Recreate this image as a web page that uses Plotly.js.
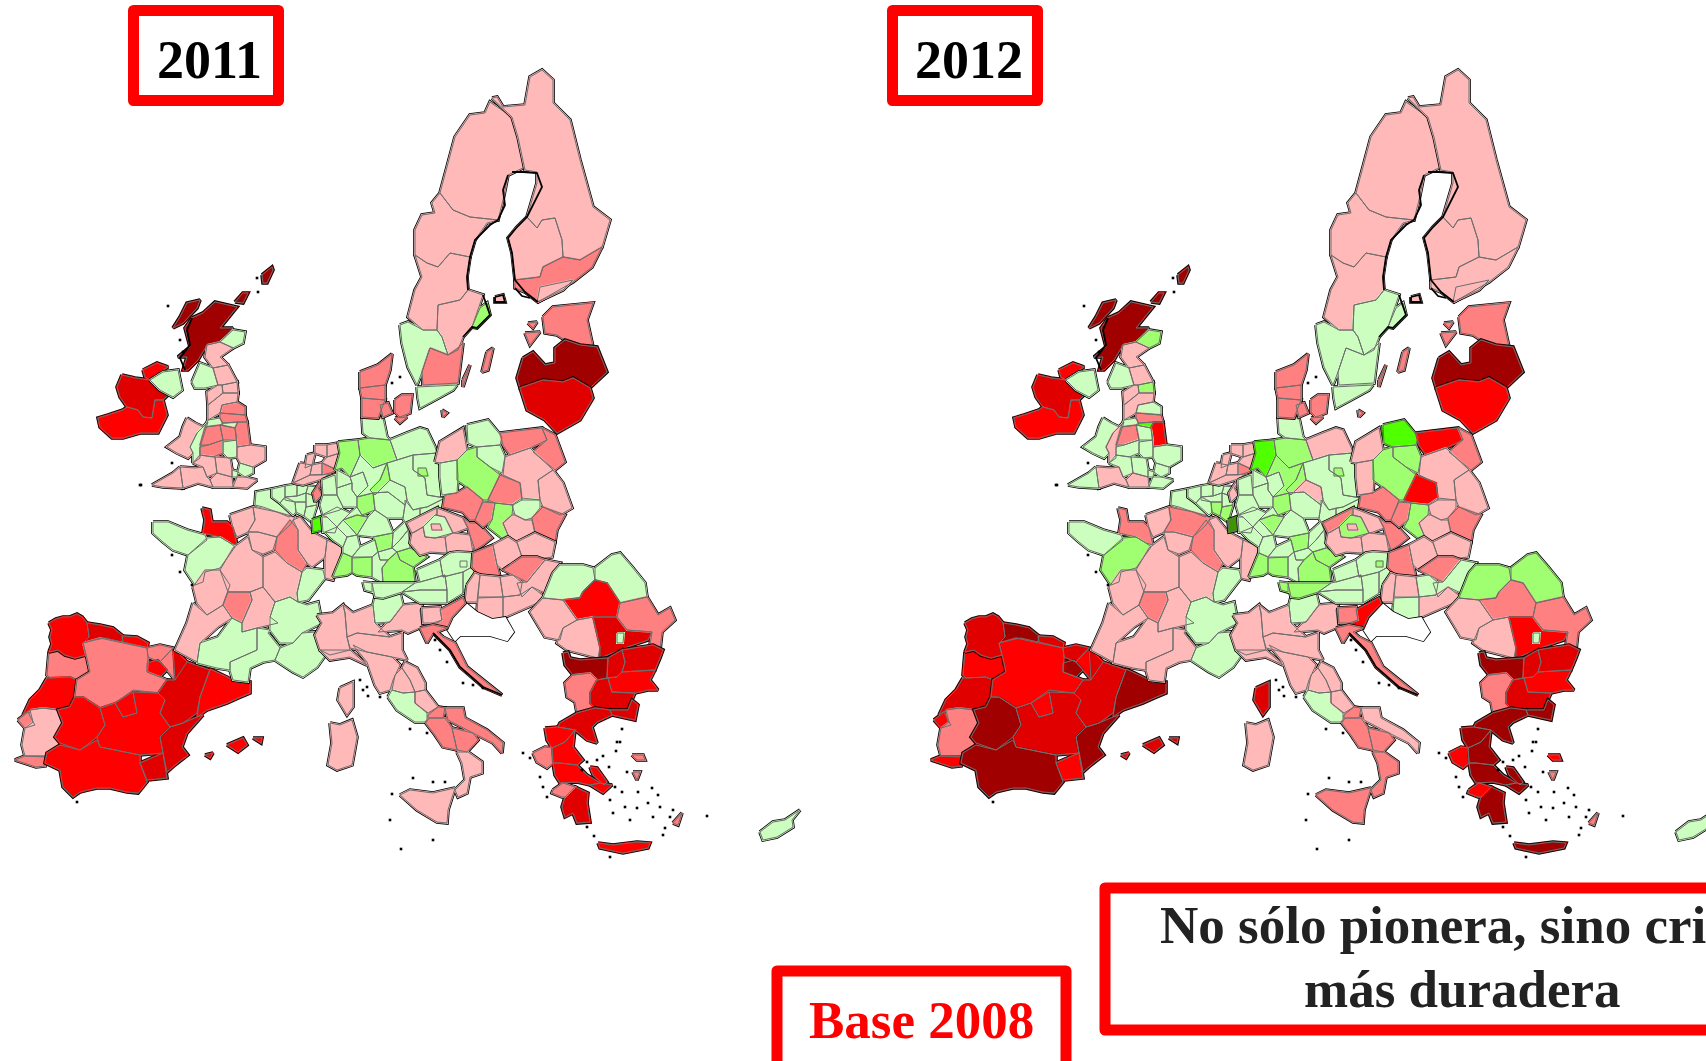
<!DOCTYPE html>
<html><head><meta charset="utf-8"><script src="https://cdn.plot.ly/plotly-3.0.1.min.js"></script>
<style>html,body{margin:0;padding:0;background:#fff;overflow:hidden}.shapelayer path{stroke-linejoin:round}</style></head>
<body><div id="chart" style="width:1706px;height:1061px"></div>
<script>
// Value classes, lowest to highest, with their colours
const classColors = ['#3C9600','#50FF00','#A0FF70','#CCFFBF','#FFB9B9','#FF8080','#FF0000','#E00000','#A00000'];
const noDataColor = '#FFFFFF';
const yearLabels = ['2011','2012'];

const regionNames = [
'PT Norte','PT Centro','PT Lisboa','PT Alentejo','PT Algarve',
'ES Galicia','ES Asturias','ES Cantabria','ES Pais Vasco','ES Navarra','ES Rioja','ES Castilla y Leon','ES Madrid','ES Aragon','ES Cataluna','ES Castilla-La Mancha','ES Valencia','ES Murcia','ES Extremadura','ES Andalucia','ES Mallorca','ES Menorca','ES Ibiza',
'FR Nord','FR Haute-Normandie','FR Basse-Normandie','FR Picardie','FR Ile-de-France','FR Champagne','FR Lorraine','FR Alsace','FR Bretagne','FR Pays de la Loire','FR Centre','FR Bourgogne','FR Franche-Comte','FR Poitou','FR Limousin','FR Auvergne','FR Aquitaine','FR Midi-Pyrenees','FR Languedoc','FR Rhone-Alpes','FR PACA','FR Corse',
'IT Piemonte','IT Lombardia','IT Trentino','IT Veneto','IT Emilia-Romagna','IT Liguria','IT Toscana','IT Umbria','IT Marche','IT Lazio','IT Abruzzo','IT Molise','IT Campania','IT Puglia','IT Basilicata','IT Calabria','IT Sicilia','IT Sardegna',
'BE West-Vlaanderen','BE Oost-Vlaanderen','BE Antwerpen','BE Limburg','BE Brabant','BE Hainaut','BE Liege','BE Namur','BE Luxembourg',
'LU Luxembourg',
'NL Friesland','NL Groningen','NL Drenthe','NL Gelderland','NL Noord-Holland','NL Utrecht','NL Zuid-Holland','NL Noord-Brabant','NL Limburg',
'DE Schleswig-Holstein','DE Weser-Ems','DE Luneburg','DE Hannover','DE Mecklenburg','DE Brandenburg NO','DE Brandenburg SW','DE Berlin','DE Braunschweig','DE Sachsen-Anhalt','DE Thuringen','DE Leipzig','DE Dresden','DE Kassel','DE Giessen','DE Darmstadt','DE Dusseldorf','DE Munster','DE Detmold','DE Arnsberg','DE Koln','DE Koblenz','DE Trier','DE Pfalz-Saar','DE Rheinhessen','DE Karlsruhe','DE Freiburg','DE Tubingen','DE Stuttgart','DE Rhon','DE Unterfranken','DE Oberfranken','DE Oberpfalz','DE Mittelfranken','DE Schwaben','DE Oberbayern','DE Niederbayern',
'CZ Severozapad','CZ Stredni Cechy','CZ Praha','CZ Severovychod','CZ Jihozapad','CZ Jihovychod','CZ Morava',
'PL Zachodniopomorskie','PL Pomorskie','PL Warminsko','PL Podlaskie','PL Kujawsko','PL Lubuskie','PL Wielkopolskie','PL Mazowieckie','PL Lodzkie','PL Lubelskie','PL Swietokrzyskie','PL Dolnoslaskie','PL Opolskie','PL Slaskie','PL Malopolskie','PL Podkarpackie',
'AT Vorarlberg','AT Tirol','AT Salzburg','AT Oberosterreich','AT Karnten','AT Niederosterreich','AT Burgenland','AT Steiermark','AT Wien',
'SK Zapadne','SK Stredne','SK Vychodne',
'HU Eszak-Magyarorszag','HU Eszak-Alfold','HU Del-Alfold','HU Kozep-Magyarorszag','HU Nyugat-Dunantul','HU Kozep-Dunantul','HU Del-Dunantul',
'BA Sin datos',
'SI Vzhodna','SI Zahodna','HR Jadranska',
'RO Nord-Vest','RO Nord-Est','RO Centru','RO Vest','RO Sud-Vest','RO Sud','RO Sud-Est','RO Bucuresti',
'BG Severozapaden','BG Severen tsentralen','BG Severoiztochen','BG Yugozapaden','BG Yuzhen tsentralen','BG Yugoiztochen',
'GR Anatoliki Makedonia','GR Kentriki Makedonia','GR Dytiki Makedonia','GR Ipeiros','GR Thessalia','GR Sterea','GR Attiki','GR Peloponnisos','GR Dytiki Ellada','GR Kriti','GR Lesvos','GR Chios','GR Rodos','GR Evvoia',
'CY Kypros',
'UK Highlands','UK Hebrides','UK Orkney','UK Shetland','UK North East Scotland','UK Eastern Scotland','UK South West Scotland','UK Northumberland','UK Cumbria','UK Durham','UK North Yorkshire','UK Lancashire','UK West Wales','UK East Wales','UK Cheshire','UK Derbyshire','UK South Yorkshire','UK Lincolnshire','UK Leicestershire','UK Shropshire','UK West Midlands','UK Bedfordshire','UK East Anglia','UK Essex','UK London','UK Kent','UK Oxfordshire','UK Gloucestershire','UK Hampshire','UK Dorset','UK Cornwall',
'IE Border Midland West','IE Donegal','IE Southern Eastern','GB Northern Ireland',
'DK Nordjylland','DK Midtjylland','DK Syddanmark','DK Sjaelland','DK Fyn','DK Lolland','DK Bornholm',
'SE Ovre Norrland','SE Mellersta Norrland','SE Norra Mellansverige','SE Ostra Mellansverige','SE Stockholm','SE Vastsverige','SE Smaland','SE Sydsverige','SE Gotland','SE Oland',
'FI Pohjois-Suomi','FI Lansi-Suomi','FI Etela-Suomi','FI Helsinki','FI Aland',
'EE Eesti','EE Saaremaa','EE Hiiumaa','LV Latvija','LT Lietuva'
];

// class index per region, same order as regionNames (-1: no data)
const value2011 = [
5,6,5,4,5,
6,7,6,5,5,6,5,6,7,6,6,7,7,6,6,6,6,6,
3,4,6,4,4,5,4,4,3,3,4,4,3,4,5,4,4,3,3,3,3,4,
4,4,3,4,4,4,4,4,4,3,4,5,5,5,5,4,4,4,
3,3,3,3,3,3,3,3,3,
1,
4,4,4,5,4,4,4,4,5,
3,2,2,3,3,3,3,2,2,3,3,3,3,2,3,2,3,3,3,3,3,3,3,3,3,3,2,2,3,3,2,3,3,3,3,2,2,
4,3,4,4,4,4,5,
4,3,5,5,3,3,2,4,5,4,3,5,5,2,4,5,
3,3,3,3,3,3,3,3,3,
5,4,4,
5,4,4,4,4,4,4,
-1,
5,4,5,
3,3,6,4,4,7,5,3,
8,7,7,5,7,6,
7,7,6,5,6,6,6,7,5,6,5,5,5,6,
3,
8,8,8,8,3,4,3,4,4,4,5,4,4,3,3,3,5,5,5,5,5,3,4,3,3,4,4,4,4,4,4,
7,6,6,3,
5,5,5,5,5,5,5,
4,4,4,4,2,3,5,3,5,5,
4,4,5,4,4,
5,5,5,8,7
];
const value2012 = [
6,7,6,5,6,
7,8,7,7,6,8,6,6,7,8,7,8,6,8,8,7,7,6,
3,4,5,5,4,5,4,4,3,2,4,4,3,4,5,4,4,4,4,3,3,7,
4,4,3,4,4,4,4,4,4,3,4,5,5,4,5,5,5,4,
3,3,3,3,3,3,3,2,2,
0,
4,4,4,5,4,4,4,4,4,
3,1,2,2,4,3,3,2,2,4,3,3,3,2,3,2,3,3,3,3,3,3,3,3,3,3,2,2,3,3,2,3,3,3,3,2,2,
5,2,4,4,4,4,5,
4,1,6,5,2,4,2,4,6,4,4,5,5,2,4,5,
2,2,3,3,3,3,3,3,2,
5,4,4,
5,3,4,3,4,4,3,
-1,
6,5,5,
2,2,5,4,4,6,5,3,
8,7,7,5,7,6,
8,8,8,6,8,8,8,8,6,8,6,5,5,8,
3,
8,8,8,8,2,4,3,4,4,2,3,4,3,4,3,1,5,6,3,5,3,3,3,3,3,3,3,3,4,4,3,
7,6,6,3,
5,5,5,5,5,5,5,
4,4,4,3,3,3,3,3,5,5,
4,4,4,4,4,
5,5,5,8,6
];

// Outline of each region, in map units, same order as regionNames
const regionOutlines = [
"49,652 58,650 65,655 75,658 86,655 88,665 90,672 77,680 70,677 50,678 47,675",
"47,678 70,677 77,680 75,697 70,707 58,710 43,708 30,710 23,715 30,700 40,690",
"18,720 28,712 33,722 35,725 25,728",
"30,710 43,708 58,710 63,723 55,737 60,745 47,753 45,757 25,756 22,745 25,728 33,722",
"25,756 45,756 45,766 36,767 15,760",
"49,623 56,619 63,617 70,617 77,614 82,617 87,623 89,637 83,643 86,655 75,658 65,655 58,650 49,652 52,644 50,637 52,630",
"87,623 100,625 113,628 123,636 122,642 105,638 95,640 83,643 89,637",
"122,636 137,637 148,643 147,648 135,645 123,642",
"147,648 160,645 173,648 160,662 148,657",
"173,648 187,662 175,680 167,670 160,662",
"147,663 158,660 167,670 160,677 147,672",
"83,643 100,638 123,643 147,648 148,657 147,672 160,677 167,680 158,693 133,690 115,703 100,708 83,697 75,697 77,680 90,672 87,658 86,655",
"115,703 133,692 137,713 123,717",
"173,648 187,662 190,663 210,670 200,697 197,713 183,723 170,727 160,713 165,700 158,693 167,680 175,680",
"210,669 227,677 236,682 250,682 250,693 238,698 227,703 207,710 197,717 200,697",
"100,708 115,703 123,717 137,713 133,692 158,693 165,700 160,713 170,727 160,737 163,753 140,755 100,747 97,737 105,725",
"170,727 183,723 197,717 203,715 187,733 182,747 188,755 175,765 167,772 163,753 160,737",
"140,763 163,753 167,778 147,780",
"75,697 83,697 100,708 105,725 97,737 80,750 60,743 55,737 63,723 58,710 70,707",
"60,745 80,750 97,740 100,747 140,755 140,763 147,782 138,793 127,792 110,788 97,788 88,790 80,792 73,797 63,787 60,770 45,763 47,753",
"227,745 243,738 247,745 238,752",
"253,738 262,738 261,743",
"205,755 213,753 210,758",
"255,505 256,492 272,489 272,497 280,503 293,515 289,517 277,512 263,507",
"230,515 253,507 255,520 248,532 237,537 233,528",
"202,508 210,510 212,522 227,522 233,528 237,545 230,543 220,537 203,533 205,520",
"253,507 277,512 295,517 290,525 277,537 258,532 248,532 255,520",
"248,532 258,532 277,537 273,550 263,554 252,550",
"275,550 277,537 290,520 298,530 298,550 307,563 302,572 287,563",
"293,520 300,517 312,532 327,540 325,557 312,567 307,563 298,550 298,530",
"327,540 343,547 333,580 325,578 325,557",
"153,522 168,522 187,530 205,535 207,540 188,555 173,550 163,542 153,533",
"207,538 220,537 230,543 235,547 220,568 205,572 203,582 195,585 185,570 188,555",
"220,570 233,548 248,537 252,550 263,557 263,587 250,592 228,592",
"263,557 275,552 287,563 302,572 297,593 298,602 290,597 275,602 263,587",
"298,602 297,593 302,572 307,568 323,570 325,578 308,600",
"193,587 205,570 220,570 230,585 223,605 207,615 197,603",
"223,605 228,592 250,592 252,600 242,623 232,618",
"250,592 263,587 275,602 270,617 278,623 257,628 242,632 242,623 252,600",
"193,603 207,615 223,605 232,618 218,627 200,643 197,662 175,650 187,623",
"200,643 218,637 232,618 242,623 242,632 257,628 257,650 230,662 230,670 217,668 197,663",
"257,628 270,630 268,633 280,648 275,660 263,662 250,668 248,682 233,680 230,670 230,662 257,650",
"270,617 275,602 290,597 298,602 307,605 318,602 322,623 302,633 293,643 280,643 270,630",
"280,648 293,643 302,633 315,632 327,653 317,667 303,677 293,672 275,660",
"340,688 353,682 353,707 347,715 338,700",
"317,615 333,613 343,605 345,613 347,637 350,650 330,655 320,650 315,635 322,623",
"343,605 353,613 373,605 375,623 390,637 357,633 347,637 345,613",
"375,597 400,593 403,605 390,622 375,623 373,605",
"387,623 390,622 403,605 423,603 420,610 422,627 408,633 402,630 378,632",
"347,637 357,633 390,637 402,633 402,650 407,660 392,657 367,652 350,648",
"320,650 350,650 367,665 350,657 330,660",
"353,645 367,652 392,657 400,665 393,680 390,690 380,693 375,685 367,662",
"392,690 395,675 402,668 410,680 415,692 403,693",
"402,668 405,662 417,668 425,683 425,690 415,692 410,680",
"388,697 392,690 403,693 415,692 415,703 427,713 427,722 415,722 397,710",
"415,692 425,690 438,707 428,713 415,703",
"428,715 438,707 445,708 443,718 428,718",
"425,722 430,718 445,718 452,728 457,750 443,747 435,735",
"445,708 463,708 465,718 487,730 503,743 502,753 493,743 473,733 448,720",
"452,728 473,733 478,740 467,752 457,750",
"457,752 468,752 482,762 482,773 470,777 467,793 458,797 455,790 465,780 462,763",
"400,795 410,790 433,793 455,788 448,810 447,823 437,822 417,810",
"330,723 340,725 352,720 357,737 352,765 337,770 328,765 332,743",
"272,489 285,486 285,497 280,503 272,497",
"285,486 297,484 297,496 285,497",
"297,484 308,486 306,493 297,496",
"308,486 318,487 317,497 306,493",
"285,497 297,496 306,493 306,502 295,502 285,500",
"280,503 285,497 295,502 296,512 293,515",
"306,493 317,497 317,505 306,507 306,502",
"295,502 306,502 306,507 304,516 296,512",
"306,507 317,505 313,518 312,522 304,516",
"312,520 320,517 322,530 313,532",
"315,445 327,445 327,457 315,453",
"327,445 338,443 340,453 327,457",
"327,457 340,453 337,470 322,463",
"322,463 337,470 330,473 322,475",
"307,455 315,453 312,465 305,468",
"312,465 322,463 322,475 310,475",
"300,463 312,465 310,475 293,483",
"293,483 310,475 330,474 322,479 303,485",
"322,479 330,474 318,488 322,495 315,502 313,493",
"362,417 383,418 387,437 390,440 370,438 363,433",
"338,442 358,440 360,455 350,477 342,468 335,470 340,453",
"358,440 370,438 390,440 397,460 387,463 373,468 360,455",
"350,477 360,455 373,468 387,463 380,480 370,490 373,493 357,497 368,486 363,472",
"390,440 407,433 420,428 427,430 435,447 437,453 413,455 397,460",
"413,455 437,453 445,498 427,495 425,478 413,470",
"397,460 413,455 413,470 425,478 427,495 445,498 427,507 413,510 407,500 405,487 390,480 387,463",
"418,468 426,468 428,476 418,476",
"387,463 390,480 375,495 370,490 380,480",
"390,480 405,487 407,500 405,505 388,492 373,493 370,490 375,495",
"373,493 388,492 405,505 403,518 387,518 375,510",
"405,500 413,510 420,508 420,517 405,522 403,518 405,505",
"420,508 427,507 445,498 443,507 420,517",
"357,497 373,493 375,510 362,515 357,507",
"350,513 357,507 362,515 368,517 357,515 343,520",
"343,520 357,515 368,517 357,535 350,527",
"322,480 335,475 337,495 323,495",
"337,470 350,477 352,483 337,488",
"350,477 363,472 368,486 357,497 352,490 352,483",
"337,488 352,483 352,490 357,497 357,507 343,507 337,495",
"323,495 337,495 343,507 340,510 323,515 320,505",
"322,515 337,507 350,513 343,520 337,527 327,517",
"322,517 327,517 337,527 335,533 323,532",
"325,532 337,527 347,537 343,547 333,540",
"337,527 343,520 350,527 357,535 347,537",
"343,547 347,537 357,535 360,547 352,557 343,553",
"343,553 352,557 352,572 347,575 333,577 340,560",
"352,558 372,557 372,577 357,575 352,572",
"360,547 375,540 378,552 372,557 352,557",
"368,517 375,510 387,518 393,533 373,537 357,535",
"373,537 393,533 392,548 378,552 375,540",
"393,533 405,522 408,530 400,540 392,548",
"392,548 400,540 408,530 410,548 397,552",
"378,552 392,548 397,552 388,560 380,560",
"372,557 378,552 380,560 388,560 382,568 383,583 372,577",
"388,560 397,552 400,560 413,567 415,583 383,583 382,568",
"397,552 410,548 427,557 413,567 400,560",
"407,523 437,508 437,515 435,515 423,527 415,532 412,533",
"423,527 435,515 445,517 453,533 435,538 425,537",
"431,524 440,524 442,530 432,530",
"437,508 463,518 468,528 457,532 453,533 445,517 437,515",
"412,533 423,527 425,537 435,538 445,537 447,553 430,552 420,555 410,543",
"453,533 470,535 473,553 457,552 447,553 445,537",
"463,518 470,523 478,523 492,538 483,545 475,550 470,535 468,528",
"435,462 440,442 463,428 467,450 457,460 440,463",
"467,425 488,420 502,437 500,445 477,447 468,443",
"500,433 542,428 547,440 530,448 510,455 503,445",
"542,428 555,435 565,462 555,470 533,452 547,440",
"477,447 500,445 505,457 502,473 490,467 477,457",
"440,463 457,460 458,477 457,493 442,495 440,477",
"457,460 467,450 477,447 477,457 490,467 500,475 488,500 483,500 467,487 457,480",
"510,455 530,448 553,470 538,480 540,500 522,500 520,483 503,475 505,457",
"488,500 500,475 520,483 522,500 513,505 495,503",
"538,480 553,470 563,483 572,508 560,515 543,507 540,500",
"512,505 522,498 540,500 540,508 532,518 525,520 515,515",
"445,495 457,493 467,487 483,500 475,520 470,520 463,512 443,507",
"483,502 495,503 492,520 483,527 475,520",
"495,503 513,505 512,515 503,523 508,535 502,538 488,527 492,520",
"512,515 515,515 525,520 532,520 535,532 517,542 508,535 503,523",
"532,518 543,507 565,515 557,530 555,542 535,533",
"363,582 372,583 372,592 365,590",
"372,583 415,583 402,592 383,598 375,597",
"415,583 420,582 445,575 447,590 420,590 402,592",
"417,570 440,560 443,577 445,575 420,582",
"402,592 420,590 447,590 447,603 420,603",
"440,560 450,553 457,552 473,553 472,567 463,572 443,577",
"463,572 472,567 475,573 467,585 463,593",
"443,577 463,572 463,593 447,603 447,590 445,575",
"460,561 467,561 467,567 460,567",
"473,553 493,545 497,565 500,577 480,575 472,567",
"493,545 508,537 517,543 522,557 503,570 497,565",
"517,542 535,533 555,542 552,557 545,558 522,557",
"503,570 522,557 537,557 545,560 527,582 513,575",
"545,560 560,563 553,572 545,593 532,587 522,597 517,583 527,582",
"503,597 520,595 532,587 545,597 540,602 528,607 503,618",
"500,577 513,575 522,583 520,595 503,597",
"467,585 475,573 480,575 478,592 477,602 465,602",
"480,575 500,577 503,597 478,597",
"478,598 503,597 503,618 492,620 477,613",
"452,617 465,603 477,613 492,620 505,618 513,632 507,640 490,635 460,635 455,640 447,628",
"440,610 463,598 465,603 452,617 447,628 433,625 442,620",
"422,608 440,607 442,620 433,623 423,623",
"420,628 433,625 447,628 437,632 443,637 455,643 467,667 487,683 502,695 483,687 460,667 450,650 440,640 433,633 427,643",
"553,573 560,565 583,565 593,568 595,580 583,592 580,598 563,600 543,598",
"595,568 612,555 620,553 632,567 645,583 647,597 620,603 607,583 595,580",
"563,600 580,598 583,592 595,580 607,583 620,603 617,617 593,617 577,620",
"543,598 563,600 577,620 563,628 560,640 545,637 530,612",
"563,628 577,620 593,617 600,647 598,658 567,650 557,643",
"593,617 617,617 627,630 652,632 648,640 627,647 600,658 600,647",
"620,603 647,597 658,615 670,608 675,620 662,632 660,650 650,645 652,632 627,630 617,617",
"617,633 624,633 623,643 617,643",
"563,653 568,652 570,658 580,660 608,658 607,678 597,680 590,673 573,675 565,665",
"608,658 622,650 625,662 622,672 617,677 607,678",
"622,650 653,645 663,650 660,658 655,670 622,672 625,662",
"573,675 590,673 597,680 590,693 590,703 595,708 577,713 575,702 567,697 565,683",
"597,680 608,678 612,692 635,693 632,700 628,710 610,710 595,708 590,703 590,693",
"608,678 617,677 622,672 655,670 650,680 658,690 648,690 635,693 612,692",
"610,710 628,710 632,700 638,705 635,720 612,715",
"577,713 595,708 610,710 612,715 597,722 592,727 597,743 587,740 575,730 558,727 560,723",
"545,728 558,727 575,730 565,742 552,748 547,740",
"533,753 545,747 552,748 553,763 547,768 537,762",
"565,742 575,730 573,747 583,760 577,765 560,763 553,763 552,748",
"553,763 560,763 577,765 587,775 600,783 590,785 577,782 560,783 555,775",
"600,783 612,785 603,793 590,785",
"565,797 575,787 588,793 587,803 590,822 577,823 573,813 565,817 562,807",
"553,790 563,783 575,787 565,797 562,797 552,793",
"598,843 613,845 637,842 650,843 648,848 623,853 600,848",
"632,755 643,755 645,760 637,760",
"633,772 640,772 637,780",
"673,823 682,813 678,825",
"590,767 597,768 607,782 604,785 593,775",
"760,832 773,822 785,820 800,810 792,820 793,827 777,837 763,840",
"192,318 203,313 215,302 237,307 220,328 233,328 220,342 207,345 198,360 188,370 183,370 187,357 178,357 190,347 185,328",
"180,317 187,303 200,300 197,308 183,323 173,328",
"235,302 243,293 248,293 243,303",
"262,275 272,267 273,270 267,283 263,283",
"220,342 233,330 245,332 243,343 233,348",
"207,345 220,342 233,348 220,357 228,365 213,368 205,357",
"192,382 200,363 213,368 218,385 205,388 195,388",
"213,368 228,365 237,382 222,385 218,385",
"218,385 222,385 223,393 208,405 207,392",
"222,385 237,382 238,393 223,393",
"222,405 237,402 245,407 245,415 220,413",
"208,405 223,393 238,393 237,402 222,405 220,413 208,420",
"187,418 195,423 203,427 197,433 190,447 193,453 188,458 177,453 167,447 180,437 183,427",
"203,427 197,433 190,447 193,453 193,463 200,458 200,447 208,422",
"208,420 220,418 223,425 205,427",
"223,423 238,422 235,428 220,425",
"220,413 245,415 247,422 238,422 223,423 220,418",
"235,428 238,422 247,422 250,445 237,447",
"220,425 235,428 237,440 223,440",
"205,427 220,425 223,440 208,445 200,445",
"200,447 208,445 223,440 223,453 213,457 200,455",
"223,442 237,440 237,457 228,458 223,453",
"237,447 250,445 265,447 265,460 253,467 240,463 237,457",
"240,463 253,467 253,473 245,477 238,472",
"232,470 238,472 237,477 232,477",
"237,477 245,477 257,480 247,488 233,487",
"215,457 230,458 232,470 232,477 217,473",
"193,463 200,455 215,457 217,473 207,477 203,467",
"217,473 232,477 233,487 213,487 210,480",
"180,467 195,468 203,467 207,477 210,480 213,487 198,483 183,488",
"152,485 173,473 180,467 183,488 163,487",
"122,375 135,378 150,380 160,390 168,395 163,400 155,400 152,418 143,417 138,410 127,407 120,397 117,387",
"143,370 157,363 168,367 160,372 150,380 145,377",
"127,407 138,410 143,417 152,418 155,400 163,400 167,415 158,433 140,433 123,438 112,438 100,427 98,418 108,415 123,410",
"150,380 163,372 178,370 182,390 173,397 160,390",
"360,372 378,365 392,354 390,370 385,385 360,388",
"360,388 385,385 385,400 362,398",
"362,398 385,400 378,418 362,417",
"395,400 402,395 412,395 410,413 400,417 395,412",
"380,405 388,403 392,413 383,417",
"395,418 407,417 400,423",
"442,410 447,413 443,417",
"440,193 447,167 455,137 470,115 485,113 490,102 512,117 517,133 525,167 508,175 503,200 498,220 470,217 453,210",
"440,193 453,210 470,217 498,220 487,223 475,240 470,257 450,253 438,267 427,263 415,255 415,230 422,215 435,213 432,203",
"415,255 427,263 438,267 450,253 470,257 467,277 468,290 460,300 438,305 437,330 423,330 408,317 415,290 422,277",
"438,305 460,300 468,290 483,295 472,327 463,337 458,350 448,355 442,337 437,330",
"472,327 480,308 487,303 490,315 477,328",
"400,325 408,322 423,330 437,330 442,337 448,355 430,348 422,372 417,385 408,367 402,343",
"430,348 448,355 458,348 463,343 458,383 423,385 422,372",
"417,387 457,385 453,390 435,400 420,408 418,398",
"487,352 493,348 488,370 482,372",
"463,380 470,365 463,387",
"492,98 497,97 503,107 525,105 530,77 542,70 553,80 553,103 570,120 580,160 593,207 610,220 602,247 580,260 563,257 562,240 555,218 542,220 537,228 527,217 537,183 537,172 525,170 518,137 512,117",
"527,217 537,228 542,220 555,218 562,240 563,257 543,267 540,277 515,280 512,253 508,238 517,227",
"515,280 540,277 543,267 563,257 580,260 602,247 592,267 573,282 538,302 525,292 515,288",
"540,287 573,280 563,290 537,302",
"495,297 503,295 505,302 495,302",
"543,317 553,307 593,303 587,320 593,347 580,345 565,340 557,335 545,333",
"525,333 540,332 530,345",
"528,323 537,322 533,328",
"523,358 533,352 545,365 555,363 555,348 565,340 580,345 597,347 607,372 590,388 573,382 543,380 520,388 517,378",
"520,388 543,380 563,382 573,378 590,388 593,398 580,420 557,433 545,420 527,410"
];

// Small islets and rugged coast that read as black specks and lines
const isletX = [622,617,620,616,609,603,597,587,582,540,543,547,523,530,627,615,622,638,652,610,613,625,630,637,648,658,660,653,670,673,707,663,665,594,587,610,360,367,363,368,380,410,427,433,445,413,392,390,433,401,435,440,447,463,473,483,168,257,258,180,183,140,172,141,77,172,180,192,400,392];
const isletY = [729,742,742,751,767,756,760,762,770,777,787,797,753,758,772,787,792,792,788,800,813,807,820,808,803,795,807,817,817,810,816,835,828,836,827,857,680,687,690,696,697,729,733,782,782,778,794,820,840,849,640,650,662,683,685,688,306,278,292,340,352,485,463,485,802,555,572,585,377,383];
const coastLines = [
"508,175 503,190 505,205 498,220 490,225 475,240 470,257 467,277 468,290",
"512,172 523,172 537,173 542,187 527,217 517,227 508,238 512,253 515,280 525,292 538,302",
"483,295 490,315 477,328 472,327 463,337",
"192,318 187,330 190,345 180,358 185,370",
"433,633 440,640 450,650 460,667 483,687 502,695",
"495,297 503,295 505,302 495,302 495,297",
"515,288 522,296 530,298"
];

// Offset of the second map within the page, and page frame
const pageWidth = 1706, pageHeight = 1061, secondMapOffset = 916;

function parseOutline(s){
  const x=[],y=[];
  s.split(' ').forEach(p=>{const [a,b]=p.split(',').map(Number);x.push(a);y.push(b);});
  x.push(x[0]);y.push(y[0]);
  return {x,y};
}
if(regionNames.length!==regionOutlines.length||regionNames.length!==value2011.length||regionNames.length!==value2012.length)
  throw new Error('length mismatch '+[regionNames.length,regionOutlines.length,value2011.length,value2012.length]);

const traces=[];
function addMap(values,xa){
  let i=0;
  while(i<regionNames.length){
    const c=regionNames[i].slice(0,2); let j=i;
    const ox=[],oy=[];
    while(j<regionNames.length&&regionNames[j].slice(0,2)===c){
      const p=parseOutline(regionOutlines[j]);
      ox.push(...p.x,null);oy.push(...p.y,null);j++;
    }
    // black edge of the country, then the filled regions slightly grown, then the grey region borders
    traces.push({type:'scatter',mode:'lines',x:ox,y:oy,xaxis:xa,yaxis:'y',hoverinfo:'skip',showlegend:false,
      line:{color:'#000',width:3.6,simplify:false}});
    for(let k=i;k<j;k++){
      const p=parseOutline(regionOutlines[k]);
      const v=values[k];
      const col=v<0?noDataColor:classColors[v];
      traces.push({type:'scatter',mode:'lines',x:p.x,y:p.y,xaxis:xa,yaxis:'y',name:regionNames[k],hoverinfo:'name',showlegend:false,
        fill:'toself',fillcolor:col,line:{color:col,width:2,simplify:false}});
    }
    if(c!=='BA'){
      traces.push({type:'scatter',mode:'lines',x:ox,y:oy,xaxis:xa,yaxis:'y',hoverinfo:'skip',showlegend:false,
        line:{color:'#6e6e6e',width:1,simplify:false}});
    }
    i=j;
  }
  const lx=[],ly=[];
  coastLines.forEach(s=>{const pts=s.split(' ').map(p=>p.split(',').map(Number));pts.forEach(q=>{lx.push(q[0]);ly.push(q[1]);});lx.push(null);ly.push(null);});
  traces.push({type:'scatter',mode:'lines',x:lx,y:ly,xaxis:xa,yaxis:'y',hoverinfo:'skip',showlegend:false,line:{color:'#000',width:1.8,simplify:false}});
  traces.push({type:'scatter',mode:'markers',x:isletX,y:isletY,xaxis:xa,yaxis:'y',hoverinfo:'skip',showlegend:false,
    marker:{symbol:'square',size:2.6,color:'#000',line:{width:0}}});
}
addMap(value2011,'x');
addMap(value2012,'x2');

function box(x0,y0,x1,y1){
  return {type:'rect',xref:'x',yref:'y',x0,y0,x1,y1,line:{color:'#FF0000',width:11},fillcolor:'rgba(0,0,0,0)'};
}
function label(text,x,y,size,color,anchor){
  return {text:'<b>'+text+'</b>',x,y,xref:'x',yref:'y',showarrow:false,xanchor:anchor||'center',yanchor:'middle',
    font:{family:'Liberation Serif',size,color},align:'center'};
}
const layout={
  width:pageWidth,height:pageHeight,margin:{l:0,r:0,t:0,b:0},paper_bgcolor:'#fff',plot_bgcolor:'#fff',showlegend:false,
  xaxis:{range:[0,pageWidth],visible:false,fixedrange:true},
  xaxis2:{range:[-secondMapOffset,pageWidth-secondMapOffset],visible:false,overlaying:'x',fixedrange:true},
  yaxis:{range:[pageHeight,0],visible:false,fixedrange:true},
  shapes:[box(133.5,10.5,278.5,100.5),box(892.5,10.5,1037.5,100.5),box(777,971,1066,1100),box(1105,888,1800,1030)],
  annotations:[
    label(yearLabels[0],209,60,54,'#000'),
    label(yearLabels[1],969,60,54,'#000'),
    label('Base 2008',921,1020,53,'#FF0000'),
    label('No sólo pionera, sino crisis',1158,925,53,'#222','left'),
    label('más duradera',1462,989,53,'#222')
  ]
};
Plotly.newPlot('chart',traces,layout,{displayModeBar:false,staticPlot:true});
</script></body></html>
